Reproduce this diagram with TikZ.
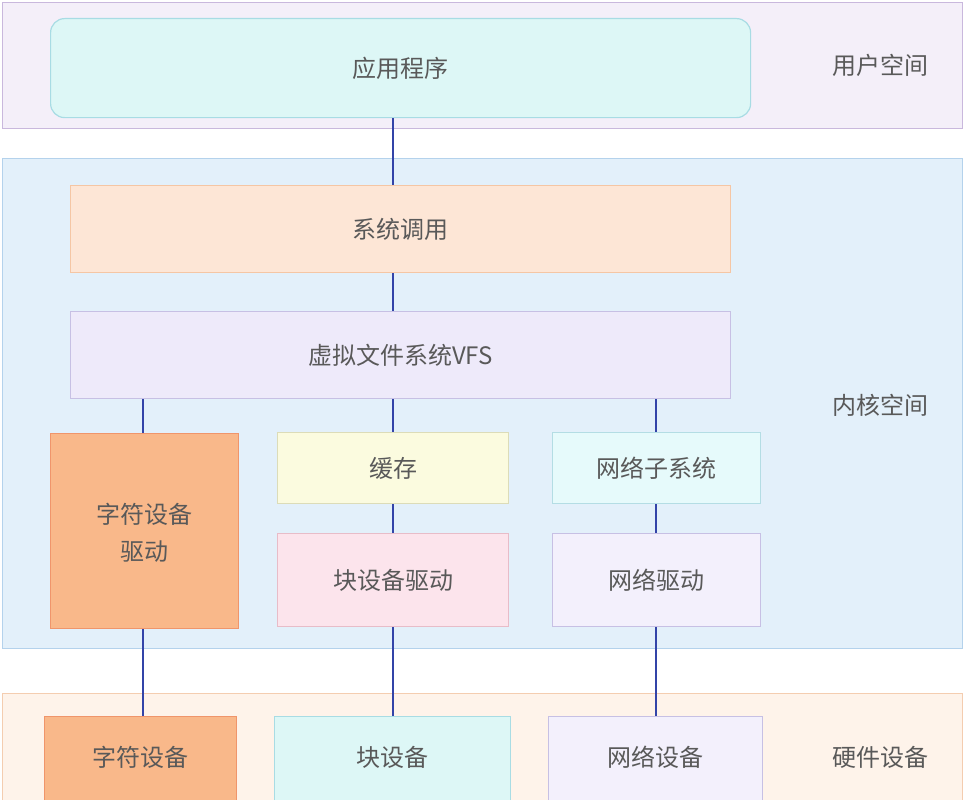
\documentclass[tikz,border=0pt]{standalone}
\usepackage{fontspec}
\setmainfont{Noto Sans CJK SC}
\begin{document}
\begin{tikzpicture}[x=1pt,y=-1pt,
 box/.style={draw=#1,line width=1.2pt,inner sep=0pt,anchor=north west},
 lbl/.style={text=black!65,font=\fontsize{24}{37}\selectfont},
 con/.style={draw=conc,line width=1.4pt}]
\useasboundingbox (0,0) rectangle (964,800);
\definecolor{conc}{HTML}{3344A8}
\definecolor{uf}{HTML}{F4EFF9}\definecolor{ub}{HTML}{C9B8DD}
\definecolor{kf}{HTML}{E3F0FA}\definecolor{kb}{HTML}{B4D2EC}
\definecolor{hf}{HTML}{FEF3EA}\definecolor{hb}{HTML}{F4CDB0}
\definecolor{appf}{HTML}{DDF7F6}\definecolor{appb}{HTML}{A8DCE4}
\definecolor{scf}{HTML}{FDE6D6}\definecolor{scb}{HTML}{F5C6A4}
\definecolor{vf}{HTML}{EEEAFA}\definecolor{vb}{HTML}{C7C0E4}
\definecolor{orf}{HTML}{F9B88A}\definecolor{orb}{HTML}{F0956B}
\definecolor{caf}{HTML}{FBFBDF}\definecolor{cab}{HTML}{DCDCB8}
\definecolor{nsf}{HTML}{E6FAFB}\definecolor{nsb}{HTML}{B4DDE4}
\definecolor{bdf}{HTML}{FCE4EC}\definecolor{bdb}{HTML}{E8BCC8}
\definecolor{ndf}{HTML}{F3F0FC}\definecolor{ndb}{HTML}{C7C0E4}
% bands
\node[box=ub,fill=uf,minimum width=960pt,minimum height=126pt] (user) at (2,2) {};
\node[box=kb,fill=kf,minimum width=960pt,minimum height=490pt] (kern) at (2,158) {};
\node[box=hb,fill=hf,minimum width=960pt,minimum height=120pt] (hw) at (2,693) {};
\node[lbl] (ul) at (880,65) {用户空间};
\node[lbl] (kl) at (880,405) {内核空间};
\node[lbl] (hl) at (880,757) {硬件设备};
% boxes
\node[box=appb,fill=appf,rounded corners=14pt,minimum width=700pt,minimum height=99pt] (app) at (50,18) {};
\node[lbl] at (app.center) {应用程序};
\node[box=scb,fill=scf,minimum width=660pt,minimum height=87pt] (sc) at (70,185) {};
\node[lbl] at (sc.center) {系统调用};
\node[box=vb,fill=vf,minimum width=660pt,minimum height=87pt] (vfs) at (70,311) {};
\node[lbl] at (vfs.center) {虚拟文件系统VFS};
\node[box=orb,fill=orf,minimum width=188pt,minimum height=195pt] (cd) at (50,433) {};
\node[lbl,align=center] at ([yshift=-2pt]cd.center) {字符设备\\驱动};
\node[box=cab,fill=caf,minimum width=231pt,minimum height=71pt] (ca) at (277,432) {};
\node[lbl] at (ca.center) {缓存};
\node[box=nsb,fill=nsf,minimum width=208pt,minimum height=71pt] (ns) at (552,432) {};
\node[lbl] at (ns.center) {网络子系统};
\node[box=bdb,fill=bdf,minimum width=231pt,minimum height=93pt] (bd) at (277,533) {};
\node[lbl] at (bd.center) {块设备驱动};
\node[box=ndb,fill=ndf,minimum width=208pt,minimum height=93pt] (nd) at (552,533) {};
\node[lbl] at (nd.center) {网络驱动};
\node[box=orb,fill=orf,minimum width=192pt,minimum height=100pt] (cdev) at (44,716) {};
\node[lbl] at (140,757) {字符设备};
\node[box=appb,fill=appf,minimum width=236pt,minimum height=100pt] (bdev) at (274,716) {};
\node[lbl] at (392,757) {块设备};
\node[box=vb,fill=ndf,minimum width=214pt,minimum height=100pt] (ndev) at (548,716) {};
\node[lbl] at (655,757) {网络设备};
% connectors
\draw[con] (app.south -| 393,0) -- (sc.north -| 393,0);
\draw[con] (sc.south -| 393,0) -- (vfs.north -| 393,0);
\draw[con] (vfs.south -| 143,0) -- (cd.north -| 143,0);
\draw[con] (vfs.south -| 393,0) -- (ca.north -| 393,0);
\draw[con] (vfs.south -| 656,0) -- (ns.north -| 656,0);
\draw[con] (ca.south -| 393,0) -- (bd.north -| 393,0);
\draw[con] (ns.south -| 656,0) -- (nd.north -| 656,0);
\draw[con] (cd.south -| 143,0) -- (cdev.north -| 143,0);
\draw[con] (bd.south -| 393,0) -- (bdev.north -| 393,0);
\draw[con] (nd.south -| 656,0) -- (ndev.north -| 656,0);
\end{tikzpicture}
\end{document}
